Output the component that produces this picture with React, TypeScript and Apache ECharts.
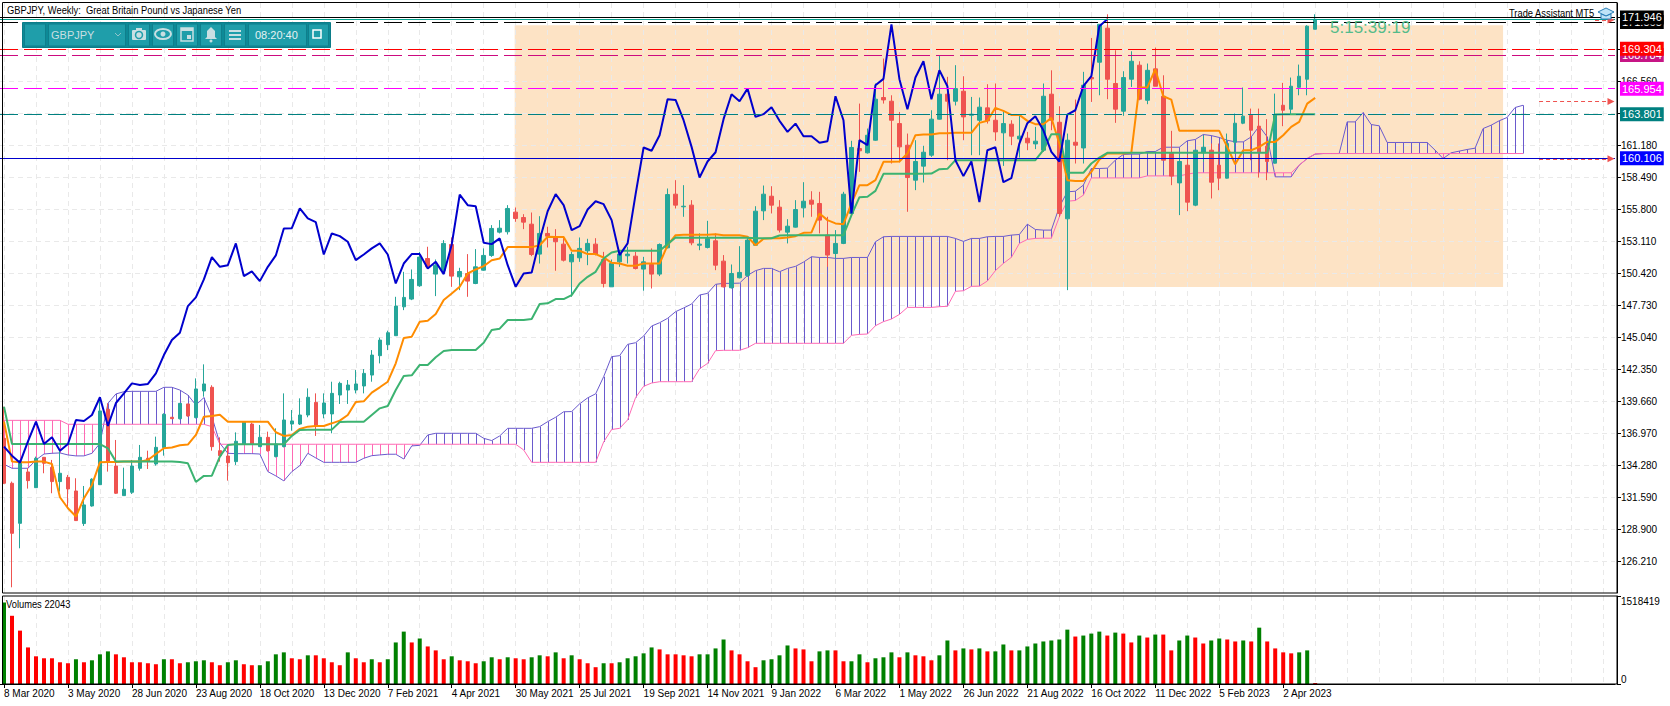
import React, { useEffect, useRef } from "react";
import * as echarts from "echarts";

const FONT = '"Liberation Sans", sans-serif';
const TITLE = "GBPJPY, Weekly:  Great Britain Pound vs Japanese Yen";
const VOLUME_TITLE = "Volumes 22043";
const SLOT_COUNT = 202;
const LAST_LABELLED_SLOT = 160;
const FIRST_WEEK = Date.UTC(2020, 2, 8);
const MONTHS = ["Jan","Feb","Mar","Apr","May","Jun","Jul","Aug","Sep","Oct","Nov","Dec"];

const priceTicks = [126.21,128.9,131.59,134.28,136.97,139.66,142.35,145.04,147.73,150.42,153.11,155.8,158.49,161.18,163.87,166.56,169.25,171.94];
const priceTickLabels = [126.21,128.9,131.59,134.28,136.97,139.66,142.35,145.04,147.73,150.42,153.11,155.8,158.49,161.18,166.56];

// [open, close, low, high]
const candles = [
[136.55,132.77,132.70,139.21],[132.77,128.56,124.02,132.91],[129.40,134.59,127.30,134.73],[133.72,132.99,132.32,134.03],[132.40,134.87,132.40,135.01],
[134.95,134.45,133.61,134.98],[134.11,132.91,131.93,134.73],[132.91,133.61,132.07,135.57],[133.27,132.29,130.67,133.47],[132.12,129.63,129.60,133.19],
[129.38,130.95,129.18,132.54],[130.86,133.11,130.80,133.19],[132.65,138.85,132.62,139.91],[138.99,134.59,133.75,139.49],[134.22,131.93,131.87,136.41],
[131.73,132.26,131.73,134.08],[132.01,134.22,131.87,134.73],[134.03,134.95,133.83,135.99],[134.87,134.59,133.97,135.51],[134.39,135.79,134.25,136.69],
[135.77,138.57,135.09,138.65],[138.32,138.20,138.20,138.32],[138.20,139.49,138.14,139.49],[139.44,138.43,138.37,139.44],[138.29,140.70,138.23,141.59],
[140.53,141.12,140.05,142.77],[140.84,135.85,135.51,141.01],[135.51,135.09,134.59,136.63],[135.06,134.50,132.99,135.85],[134.59,136.30,134.31,137.05],
[136.05,137.95,136.00,137.95],[137.75,136.07,136.00,137.87],[135.85,136.63,135.85,137.67],[136.63,135.51,135.43,137.11],[135.01,136.07,134.95,137.39],
[135.85,138.09,135.79,140.33],[137.75,138.01,137.19,138.93],[137.75,138.51,137.67,139.91],[138.51,140.00,138.32,140.75],[139.57,137.59,136.75,140.33],
[138.60,139.52,138.23,140.33],[138.60,140.33,136.97,141.31],[140.19,141.17,139.44,141.31],[140.61,141.03,139.44,141.45],[140.61,141.12,140.33,142.29],
[140.95,142.01,140.33,142.37],[141.87,143.55,141.31,143.97],[143.50,144.81,142.85,145.01],[144.42,145.43,143.97,145.60],[145.18,147.67,145.18,148.45],
[147.61,148.40,147.33,150.55],[148.26,149.91,148.17,150.75],[149.38,151.79,149.29,152.23],[151.67,150.97,150.97,152.66],[150.36,151.11,148.51,151.59],
[150.69,152.94,150.55,153.22],[152.85,150.19,149.29,153.44],[150.13,150.58,149.01,150.89],[150.41,149.77,148.45,152.04],[149.57,150.97,149.51,152.46],
[150.69,151.93,150.64,152.52],[151.93,154.20,151.81,154.48],[153.89,154.22,153.78,154.90],[153.92,155.88,153.69,156.16],[155.57,155.04,154.76,155.96],
[155.12,154.73,154.14,155.40],[154.56,152.01,151.87,155.54],[152.04,153.78,151.25,155.23],[153.78,153.55,152.60,154.34],[153.50,153.08,150.64,154.14],
[152.88,151.53,151.42,153.55],[151.39,152.01,148.45,152.23],[151.73,152.52,151.39,153.44],[152.32,152.94,151.11,153.33],[152.88,152.01,151.93,153.38],
[151.59,149.57,149.24,152.23],[149.29,151.25,149.29,151.59],[151.39,152.04,150.97,152.32],[151.90,152.04,151.25,152.66],[151.87,150.83,150.75,152.23],
[150.78,151.39,148.96,151.81],[151.17,150.36,149.15,152.52],[150.36,152.85,150.19,152.94],[152.57,157.05,152.52,157.56],[157.08,156.16,155.88,158.26],
[156.02,156.07,155.18,157.84],[156.16,152.99,152.79,156.58],[152.79,152.88,152.37,153.78],[152.60,153.36,152.52,154.84],[153.16,151.11,150.69,153.78],
[151.45,149.29,149.24,151.96],[149.21,150.41,149.15,151.17],[150.05,150.50,150.00,152.71],[150.25,153.22,150.13,153.44],[152.79,155.65,152.74,156.07],
[155.68,157.08,154.90,157.81],[156.91,156.16,155.46,157.75],[155.99,154.06,153.86,156.58],[153.89,154.39,152.94,154.98],[154.31,155.79,154.28,156.58],
[155.93,156.49,155.12,158.09],[156.58,156.24,155.18,157.33],[156.30,154.90,153.78,157.28],[153.64,151.96,150.97,155.18],[152.09,152.94,151.67,154.06],
[152.94,157.08,152.88,157.28],[155.46,161.01,155.40,161.57],[160.92,160.73,158.96,164.70],[160.56,162.04,160.50,162.60],[161.62,165.07,161.57,166.39],
[165.21,165.01,164.70,168.49],[164.90,163.30,159.66,165.40],[163.02,161.06,159.75,164.00],[161.20,158.48,155.60,162.18],[158.26,159.83,157.42,161.62],
[159.44,160.61,158.06,161.15],[160.36,163.39,160.22,164.14],[163.39,165.49,163.36,168.77],[165.49,164.90,159.94,166.95],[164.90,165.96,164.54,167.93],
[165.74,163.58,161.62,167.00],[163.72,163.81,160.36,165.26],[163.30,164.40,160.36,165.21],[164.34,163.25,163.02,166.33],[163.30,162.32,161.57,166.39],
[162.24,163.02,159.46,164.06],[162.97,161.96,161.20,163.30],[161.73,161.96,160.16,163.72],[161.79,161.40,160.78,162.32],[161.31,161.54,160.87,162.74],
[160.78,165.32,160.64,166.39],[165.49,163.30,162.46,167.50],[163.13,155.46,155.18,164.48],[155.01,161.62,149.01,162.18],[161.45,161.20,159.66,165.04],
[160.97,166.25,159.66,167.37],[166.89,166.78,164.84,170.22],[168.18,171.37,165.40,171.37],[171.04,166.75,165.07,172.21],[166.39,164.23,163.08,169.19],
[164.06,166.89,163.67,167.42],[166.75,168.26,166.10,169.10],[167.93,165.07,164.98,168.26],[164.98,167.50,164.65,168.07],[167.62,166.16,166.16,169.41],
[165.32,159.94,159.94,167.08],[160.50,158.60,157.84,162.41],[158.03,159.83,155.32,160.36],[159.52,156.41,155.65,160.36],[156.16,160.78,156.07,160.78],
[160.56,161.03,159.80,162.04],[160.78,158.09,156.72,161.34],[159.52,158.43,157.42,161.34],[158.43,161.34,158.40,162.18],[161.45,163.05,160.50,163.86],
[163.05,163.64,162.97,166.05],[163.72,162.46,159.94,164.28],[162.80,160.64,158.48,164.28],[161.12,159.83,158.26,163.39],[159.69,163.78,159.66,165.54],
[164.56,164.14,162.80,166.44],[164.23,166.16,163.81,166.89],[166.07,167.00,165.40,167.98],[166.75,171.21,165.40,171.29],[170.95,171.79,170.95,172.21],
];

const tenkan = [
137.95,134.59,134.53,134.53,134.59,134.59,134.39,131.59,130.67,129.97,131.51,132.63,134.53,134.56,134.56,134.59,134.59,134.59,134.73,135.23,
135.71,135.77,135.96,136.02,136.83,138.37,138.43,138.54,137.95,137.95,137.95,137.95,137.95,137.95,137.06,136.75,136.83,137.34,137.53,137.59,
137.59,137.81,138.04,138.51,139.61,139.66,140.39,140.84,141.31,142.86,144.99,145.10,146.36,146.44,147.00,148.18,148.73,149.29,150.41,150.75,
151.03,151.53,151.67,152.63,152.63,152.63,152.63,152.79,153.50,153.47,153.47,152.32,152.32,152.04,152.04,151.76,151.31,151.25,151.06,151.06,
151.25,151.25,151.25,152.79,153.63,153.66,153.66,153.66,153.66,153.72,153.63,153.63,153.63,153.50,152.79,153.33,153.38,153.38,153.44,153.55,
153.83,153.86,155.46,154.90,154.62,154.56,156.30,157.84,157.84,158.26,159.80,159.80,159.83,160.50,162.04,162.10,162.10,162.21,162.21,162.24,
162.24,162.24,163.08,163.25,164.34,164.09,163.75,163.75,163.25,162.97,162.97,163.50,161.34,158.26,158.20,158.20,158.96,159.99,160.50,160.50,
160.50,160.56,166.05,166.05,167.59,165.32,165.04,162.41,162.41,162.41,162.41,162.41,162.41,161.06,159.60,160.78,160.78,161.06,161.48,161.48,
162.04,162.74,163.16,164.70,165.18,
];

const kijun = [
139.21,136.07,136.07,136.07,136.07,136.07,136.07,136.07,136.07,136.07,136.07,136.07,136.07,135.71,134.59,134.59,134.59,134.59,134.59,134.59,
134.59,134.59,134.56,134.45,132.88,133.39,133.41,135.01,135.99,136.05,136.05,136.05,136.05,136.05,136.05,136.05,136.75,137.25,137.28,137.28,
137.28,137.28,137.92,137.95,137.95,137.95,138.51,139.07,139.27,140.61,141.79,141.85,142.72,142.72,143.36,143.89,143.98,143.98,143.98,143.98,
144.59,145.66,145.77,146.50,146.50,146.50,146.58,147.84,147.90,148.26,148.26,148.59,149.57,150.13,150.55,151.67,152.18,152.32,152.32,152.32,
152.32,152.32,152.32,152.88,153.44,153.41,153.41,153.41,153.41,153.41,153.41,153.41,153.41,153.41,153.38,153.38,153.38,153.61,153.63,153.63,
153.63,153.63,153.63,153.63,153.63,153.63,155.32,156.83,156.86,157.36,158.79,158.79,158.79,158.79,158.79,158.79,158.82,159.18,159.21,159.94,
159.94,159.94,159.94,159.94,159.94,159.94,159.94,159.94,159.94,159.94,160.78,162.13,162.13,158.88,158.88,158.88,159.66,160.16,160.56,160.56,
160.56,160.56,160.56,160.56,160.56,160.56,160.56,160.56,160.56,160.56,160.56,160.56,160.56,160.56,160.56,160.56,160.56,160.56,160.56,163.78,
163.81,163.81,163.81,163.81,163.81,
];

const senkouA = [
134.37,134.03,134.03,134.03,134.73,135.23,135.29,135.32,135.15,135.07,135.07,135.29,136.13,139.49,140.28,140.47,140.50,140.50,140.50,140.50,
140.84,140.84,140.61,140.19,139.35,139.97,138.37,136.13,135.29,135.26,135.26,135.26,135.23,133.75,133.39,132.97,133.75,134.25,135.29,134.90,
134.53,134.53,134.53,134.53,134.53,134.87,135.09,135.15,135.21,135.21,134.81,135.91,135.96,136.83,136.97,136.97,136.97,136.97,136.97,136.97,
136.55,136.36,136.75,137.39,137.39,137.39,137.39,137.53,137.95,138.32,138.78,138.80,139.45,139.95,140.29,141.73,143.42,143.50,144.45,144.59,
145.15,145.99,146.27,146.64,147.20,147.51,147.84,148.60,148.74,149.50,149.58,149.58,149.60,150.25,150.65,150.84,150.84,150.56,150.84,151.01,
151.37,151.82,151.76,151.76,151.68,151.68,151.76,151.76,151.76,153.08,153.50,153.53,153.53,153.53,153.53,153.53,153.53,153.53,153.53,153.36,
153.11,153.36,153.36,153.50,153.53,153.53,153.64,153.69,154.56,154.11,154.06,154.06,156.02,157.28,157.33,157.84,159.24,159.24,159.27,159.94,
160.42,160.45,160.45,160.67,160.67,161.03,161.03,161.03,161.57,161.68,162.10,162.01,161.85,161.62,161.48,161.48,161.90,162.80,161.90,158.54,
158.54,158.54,159.52,160.08,160.45,160.50,160.50,160.50,163.16,163.16,163.95,162.94,162.83,161.43,161.43,161.43,161.43,161.43,161.43,160.78,
160.08,160.56,160.70,160.84,160.95,162.60,162.88,163.25,163.53,164.37,164.56,
];

const senkouB = [
138.06,138.06,138.06,138.06,138.06,138.06,138.06,138.06,137.73,137.73,137.73,137.73,137.73,137.73,137.73,137.73,137.73,137.73,137.73,137.73,
137.73,137.73,137.73,137.73,137.73,137.73,137.53,136.05,136.05,136.05,136.05,136.05,136.05,136.05,136.05,136.05,136.05,136.05,136.05,136.05,
136.05,136.05,136.05,136.05,136.05,136.05,136.05,136.05,136.05,136.05,136.05,136.05,136.05,136.05,136.05,136.05,136.05,136.05,136.05,136.05,
136.05,136.05,136.05,136.05,136.05,135.57,134.53,134.53,134.53,134.53,134.53,134.53,134.53,134.53,134.53,136.24,137.29,137.39,138.10,139.98,
140.92,141.20,141.31,141.31,141.31,141.31,141.31,142.40,142.85,143.92,143.95,143.95,143.95,144.17,144.54,144.54,144.54,144.54,144.54,144.54,
144.54,144.54,144.54,144.54,144.54,144.54,145.21,145.29,145.32,146.02,146.36,146.58,146.97,147.56,147.56,147.56,147.56,147.62,147.65,148.91,
148.96,149.33,149.35,149.78,150.65,151.26,151.77,152.94,153.28,153.36,153.38,153.38,155.18,156.49,156.55,157.00,158.45,158.45,158.45,158.45,
158.45,158.45,158.45,158.62,158.62,158.62,158.62,158.62,158.76,158.88,158.88,158.88,158.88,158.88,158.88,158.88,158.88,158.88,158.88,158.88,
158.88,158.88,159.52,160.08,160.47,160.50,160.50,160.50,160.50,160.50,160.50,160.50,160.50,160.50,160.50,160.50,160.50,160.50,160.50,160.50,
160.50,160.50,160.50,160.50,160.50,160.50,160.50,160.50,160.50,160.50,160.50,
];

const volumes = [
1405000,1177000,921000,631000,478000,444000,444000,375000,358000,427000,375000,409000,512000,563000,512000,461000,375000,375000,358000,341000,
427000,427000,358000,375000,392000,409000,375000,324000,375000,409000,341000,324000,324000,392000,512000,546000,444000,427000,495000,495000,
444000,375000,324000,546000,444000,375000,427000,375000,427000,717000,904000,717000,785000,648000,580000,427000,478000,409000,392000,358000,
392000,461000,427000,461000,444000,427000,461000,495000,478000,546000,444000,495000,427000,358000,290000,358000,358000,375000,444000,478000,
529000,631000,597000,512000,512000,495000,478000,512000,512000,614000,768000,580000,512000,392000,290000,409000,427000,495000,665000,614000,
597000,392000,563000,580000,580000,392000,392000,512000,375000,444000,461000,546000,461000,546000,495000,478000,409000,495000,751000,580000,
614000,597000,614000,563000,563000,682000,580000,580000,648000,699000,734000,751000,768000,938000,819000,836000,870000,904000,836000,887000,
870000,717000,836000,802000,853000,853000,580000,751000,836000,802000,699000,751000,785000,768000,734000,751000,734000,972000,734000,614000,
546000,529000,546000,580000,17000,
];

// 1 = green volume bar (volume rose), 0 = red volume bar, in the picture's order
const volumeRising = [
1,0,0,0,0,0,0,0,0,1,0,1,1,1,0,0,0,0,0,0,1,0,0,1,1,1,0,0,1,1,0,0,1,1,1,1,0,0,1,0,
0,0,0,1,0,0,1,0,1,1,1,0,1,0,0,0,1,0,0,0,1,1,0,1,0,0,1,1,0,1,0,1,0,0,0,1,0,1,1,1,
1,1,0,0,0,0,0,1,1,1,1,0,0,0,0,1,1,1,1,0,0,0,1,1,0,0,1,1,0,1,1,1,0,1,0,0,0,1,1,0,
1,0,1,0,1,1,0,1,1,1,1,1,1,1,0,1,1,1,0,1,0,0,1,0,1,0,0,1,1,0,0,1,1,0,0,1,0,1,0,0,
0,0,1,1,0,
];

const VOLUME_MAX = 1518419;
const volumeTicks = [0, VOLUME_MAX];

// [value, label text, line colour, tag colour, dash]
const levels: [number, string, string, string, number[] | string][] = [
  [171.565, "171.565", "#000000", "#000000", [18, 6]],
  [171.76, "", "#00a08c", "", "solid"],
  [171.946, "171.946", "#000000", "#000000", "solid"],
  [168.784, "168.784", "#cc0a80", "#c71585", [18, 6]],
  [169.304, "169.304", "#ff0000", "#ff0000", [18, 6]],
  [165.954, "165.954", "#ff00ff", "#ff00ff", [18, 6]],
  [163.801, "163.801", "#008080", "#008080", [18, 6]],
  [160.106, "160.106", "#0000cd", "#0000ff", "solid"],
];
// [value, first slot, last slot]
const arrows: [number, number, number][] = [
  [164.88, 192, 201],
  [160.06, 192, 201],
  [171.72, 199, 201],
];
// [first slot, last slot, top price, bottom price]
const zoneBox: number[] = [64, 187, 171.29, 149.27];

const weekLabel = (i: number) => {
  const d = new Date(FIRST_WEEK + i * 7 * 86400000);
  return `${d.getUTCDate()} ${MONTHS[d.getUTCMonth()]} ${d.getUTCFullYear()}`;
};
const categories = Array.from({ length: SLOT_COUNT }, (_, i) => weekLabel(i));
const isLabelledSlot = (i: number) => i % 8 === 0 && i <= LAST_LABELLED_SLOT;

const GRID_DASH = { color: "#e9e9e9", type: [5, 4] as number[], width: 1 };
const UI = "#c9dfe2";

function toolbarButton(x: number, w: number) {
  return {
    type: "rect", z: 61,
    shape: { x, y: 24, width: w, height: 22 },
    style: { fill: "#1f9eaa", stroke: "#0f7f8c", lineWidth: 1 },
  };
}

function buildGraphic() {
  const icons: any[] = [
    // camera
    { type: "rect", shape: { x: 132, y: 30, width: 14, height: 10, r: 1 }, style: { fill: UI } },
    { type: "rect", shape: { x: 136, y: 28, width: 6, height: 3 }, style: { fill: UI } },
    { type: "circle", shape: { cx: 139, cy: 35, r: 3.5 }, style: { fill: UI, stroke: "#1f9eaa", lineWidth: 1.5 } },
    // eye
    { type: "ellipse", shape: { cx: 163, cy: 34, rx: 8, ry: 5 }, style: { fill: "none", stroke: UI, lineWidth: 2 } },
    { type: "circle", shape: { cx: 163, cy: 34, r: 2.5 }, style: { fill: UI } },
    // calendar
    { type: "rect", shape: { x: 181, y: 28, width: 12, height: 13 }, style: { fill: "none", stroke: UI, lineWidth: 1.5 } },
    { type: "rect", shape: { x: 181, y: 28, width: 12, height: 3 }, style: { fill: UI } },
    { type: "rect", shape: { x: 187, y: 35, width: 4, height: 4 }, style: { fill: UI } },
    // bell
    { type: "polygon", shape: { points: [[211, 27], [215, 31], [215, 37], [217, 39], [205, 39], [207, 37], [207, 31]] }, style: { fill: UI } },
    { type: "circle", shape: { cx: 211, cy: 41, r: 1.5 }, style: { fill: UI } },
    // menu
    { type: "rect", shape: { x: 229, y: 30, width: 12, height: 2 }, style: { fill: UI } },
    { type: "rect", shape: { x: 229, y: 34, width: 12, height: 2 }, style: { fill: UI } },
    { type: "rect", shape: { x: 229, y: 38, width: 12, height: 2 }, style: { fill: UI } },
    // window
    { type: "rect", shape: { x: 313, y: 30, width: 8, height: 8 }, style: { fill: "none", stroke: "#ffffff", lineWidth: 1.5 } },
    // caret
    { type: "polyline", shape: { points: [[115, 33], [118, 36], [121, 33]] }, style: { fill: "none", stroke: "#8fc4ca", lineWidth: 1 } },
  ].map((e) => ({ ...e, z: 62 }));
  return [
    { type: "rect", z: 50, silent: true, shape: { x: 2.5, y: 2.5, width: 1614.5, height: 590.5 }, style: { fill: "none", stroke: "#000", lineWidth: 1 } },
    { type: "rect", z: 50, silent: true, shape: { x: 2.5, y: 596, width: 1614.5, height: 88 }, style: { fill: "none", stroke: "#000", lineWidth: 1 } },
    { type: "text", z: 50, x: 7, y: 10, scaleX: 0.85, style: { text: TITLE, fill: "#000", font: `11px ${FONT}`, textVerticalAlign: "middle" } },
    { type: "text", z: 50, x: 6, y: 604, scaleX: 0.85, style: { text: VOLUME_TITLE, fill: "#000", font: `11px ${FONT}`, textVerticalAlign: "middle" } },
    { type: "text", z: 50, x: 1509, y: 13.5, scaleX: 0.85, style: { text: "Trade Assistant MT5", fill: "#000", font: `11px ${FONT}`, textVerticalAlign: "middle" } },
    { type: "polygon", z: 50, shape: { points: [[1606, 8], [1614, 12], [1606, 16], [1598, 12]] }, style: { fill: "#bfe3f7", stroke: "#2a7fb8", lineWidth: 1 } },
    { type: "polygon", z: 50, shape: { points: [[1601, 14], [1606, 16], [1611, 14], [1611, 19], [1601, 19]] }, style: { fill: "#bfe3f7", stroke: "#2a7fb8", lineWidth: 1 } },
    { type: "text", z: 50, x: 1330, y: 27, style: { text: "5:15:39:19", fill: "#54bb8a", font: `17px ${FONT}`, textVerticalAlign: "middle" } },
    { type: "rect", z: 60, shape: { x: 22.5, y: 22.5, width: 308, height: 25 }, style: { fill: "#0d8a97", stroke: "#0b7c88", lineWidth: 1 } },
    toolbarButton(24.5, 21),
    toolbarButton(48.5, 77),
    toolbarButton(128.5, 21),
    toolbarButton(152.5, 21),
    toolbarButton(176.5, 21),
    toolbarButton(200.5, 21),
    toolbarButton(224.5, 21),
    toolbarButton(248.5, 58),
    toolbarButton(308.5, 20),
    ...icons,
    { type: "text", z: 62, x: 51, y: 34.5, style: { text: "GBPJPY", fill: UI, font: `11px ${FONT}`, textVerticalAlign: "middle" } },
    { type: "text", z: 62, x: 255, y: 34.5, style: { text: "08:20:40", fill: "#e6f2f3", font: `11px ${FONT}`, textVerticalAlign: "middle" } },
  ];
}

function buildOption() {
  const hatchData = senkouA.map((a, i) => [i, a, senkouB[i]]);
  const closes = candles.map((c) => c[1]);
  const chikou = closes.slice(26);
  const lineSeries = (name: string, data: number[], color: string, width: number, z: number) => ({
    name, type: "line", data, showSymbol: false, symbol: "none", z, silent: true,
    lineStyle: { color, width }, xAxisIndex: 0, yAxisIndex: 0,
  });
  return {
    animation: false,
    backgroundColor: "#ffffff",
    textStyle: { fontFamily: FONT },
    grid: [
      { left: -1, width: 1616, top: 3, height: 590 },
      { left: -1, width: 1616, top: 596, height: 88 },
    ],
    xAxis: [
      {
        type: "category", gridIndex: 0, data: categories, boundaryGap: true, position: "bottom",
        axisLine: { show: false }, axisTick: { show: false }, axisLabel: { show: false },
        splitLine: { show: true, interval: 3, alignWithLabel: true, lineStyle: GRID_DASH },
      },
      {
        type: "category", gridIndex: 1, data: categories, boundaryGap: true, position: "bottom",
        axisLine: { show: true, lineStyle: { color: "#000" } },
        axisTick: { show: true, interval: (i: number) => isLabelledSlot(i), alignWithLabel: true, length: 4, lineStyle: { color: "#000" } },
        axisLabel: { show: true, interval: (i: number) => isLabelledSlot(i), align: "left", margin: 4, color: "#000", fontSize: 10, fontFamily: FONT },
        splitLine: { show: true, interval: 3, alignWithLabel: true, lineStyle: GRID_DASH },
      },
    ],
    yAxis: [
      {
        type: "value", gridIndex: 0, position: "right", offset: 2, min: 123.54, max: 173.16, scale: true,
        axisLine: { show: true, lineStyle: { color: "#000" } },
        axisTick: { show: true, length: 4, customValues: priceTicks, lineStyle: { color: "#000" } },
        axisLabel: { show: true, customValues: priceTickLabels, margin: 4, color: "#000", fontSize: 10, fontFamily: FONT, formatter: (v: number) => v.toFixed(3) },
        splitLine: { show: true, lineStyle: GRID_DASH },
      },
      {
        type: "value", gridIndex: 1, position: "right", offset: 2, min: 0, max: VOLUME_MAX,
        axisLine: { show: true, lineStyle: { color: "#000" } },
        axisTick: { show: true, length: 4, customValues: volumeTicks, lineStyle: { color: "#000" } },
        axisLabel: { show: true, customValues: volumeTicks, margin: 4, color: "#000", fontSize: 10, fontFamily: FONT, verticalAlignMinLabel: "bottom", verticalAlignMaxLabel: "top", formatter: (v: number) => String(v) },
        splitLine: { show: false },
      },
    ],
    series: [
      {
        name: "Zone", type: "custom", z: -1, silent: true, xAxisIndex: 0, yAxisIndex: 0,
        data: [zoneBox],
        encode: { x: [0, 1], y: [2, 3] },
        renderItem: (_: any, api: any) => {
          const a = api.coord([api.value(0), api.value(2)]);
          const b = api.coord([api.value(1), api.value(3)]);
          return { type: "rect", shape: { x: a[0] - 1, y: a[1], width: b[0] - a[0] + 5, height: b[1] - a[1] }, style: { fill: "#fde3c5" } };
        },
      },
      {
        name: "Cloud", type: "custom", z: 2, silent: true, xAxisIndex: 0, yAxisIndex: 0,
        data: hatchData,
        encode: { x: 0, y: [1, 2] },
        renderItem: (_: any, api: any) => {
          const a = api.coord([api.value(0), api.value(1)]);
          const b = api.coord([api.value(0), api.value(2)]);
          const x = Math.round(a[0]) + 0.5;
          return { type: "line", shape: { x1: x, y1: a[1], x2: x, y2: b[1] }, style: { stroke: api.value(1) >= api.value(2) ? "#6a5acd" : "#ff69b4", lineWidth: 1 } };
        },
      },
      lineSeries("Senkou A", senkouA, "#6a5acd", 1, 2),
      lineSeries("Senkou B", senkouB, "#ff69b4", 1, 2),
      {
        name: "GBPJPY", type: "candlestick", xAxisIndex: 0, yAxisIndex: 0, z: 3, silent: true,
        data: candles, barWidth: 4,
        itemStyle: { color: "#26a69a", color0: "#ef5350", borderColor: "#26a69a", borderColor0: "#ef5350", borderWidth: 1 },
      },
      lineSeries("Tenkan", tenkan, "#ff8c00", 2, 4),
      lineSeries("Kijun", kijun, "#3cb371", 2, 4),
      lineSeries("Chikou", chikou, "#0000cd", 2, 4),
      {
        name: "Levels", type: "line", data: [], z: 5, xAxisIndex: 0, yAxisIndex: 0, silent: true,
        markLine: {
          silent: true, symbol: ["none", "none"], animation: false, precision: 3,
          data: [
            ...levels.map(([value, text, color, tag, dash]) => ({
              yAxis: value,
              lineStyle: { color, type: dash, width: 1 },
              label: text ? {
                show: true, position: "end", distance: 5, formatter: text, color: "#fff",
                backgroundColor: tag, padding: [2, 2, 1, 2], fontSize: 11, fontFamily: FONT,
              } : { show: false },
            })),
            ...arrows.map(([value, from, to]) => [
              { coord: [from, value], symbol: "none", lineStyle: { color: "#ef5350", type: [4, 3], width: 1 }, label: { show: false } },
              { coord: [to, value], symbol: "triangle", symbolSize: 7, itemStyle: { color: "#ef5350" } },
            ]),
          ],
        },
      },
      {
        name: "Volumes", type: "bar", xAxisIndex: 1, yAxisIndex: 1, barWidth: 4, silent: true,
        data: volumes.map((v, i) => ({ value: v, itemStyle: { color: volumeRising[i] ? "#008000" : "#ff0000" } })),
      },
    ],
    graphic: buildGraphic(),
  };
}

export default function App() {
  const ref = useRef<HTMLDivElement>(null);
  useEffect(() => {
    document.body.style.margin = "0";
    const chart = echarts.init(ref.current!, undefined, { renderer: "svg" });
    chart.setOption(buildOption() as any);
    return () => chart.dispose();
  }, []);
  return <div ref={ref} style={{ width: 1670, height: 706 }} />;
}
